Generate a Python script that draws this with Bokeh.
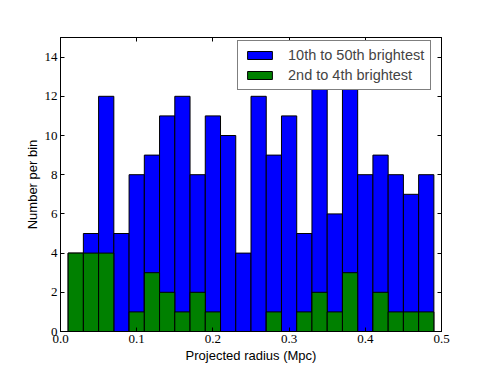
from bokeh.plotting import figure
from bokeh.models import LinearAxis, FixedTicker, Range1d, CustomJSTickFormatter
from bokeh.embed import file_html
from bokeh.resources import INLINE

bin_edges = [0.01, 0.03, 0.05, 0.07, 0.09, 0.11, 0.13, 0.15, 0.17, 0.19, 0.21, 0.23,
             0.25, 0.27, 0.29, 0.31, 0.33, 0.35, 0.37, 0.39, 0.41, 0.43, 0.45, 0.47, 0.49]
blue_counts = [4, 5, 12, 5, 8, 9, 11, 12, 8, 11, 10, 4,
               12, 9, 11, 5, 13, 6, 13, 8, 9, 8, 7, 8]
green_counts = [4, 4, 4, 0, 1, 3, 2, 1, 2, 1, 0, 0,
                0, 1, 0, 1, 2, 1, 3, 0, 2, 1, 1, 1]
x_ticks = [0.0, 0.1, 0.2, 0.3, 0.4, 0.5]
y_ticks = [0, 2, 4, 6, 8, 10, 12, 14]
blue_label = "10th to 50th brightest"
green_label = "2nd to 4th brightest"

lefts = bin_edges[:-1]
rights = bin_edges[1:]

p = figure(width=491, height=370, output_backend="svg", toolbar_location=None,
           x_range=Range1d(0, 0.5), y_range=Range1d(0, 15),
           min_border_left=60, min_border_right=50, min_border_top=37, min_border_bottom=39)
p.xgrid.visible = False
p.ygrid.visible = False
p.outline_line_color = "black"
p.outline_line_width = 1
p.background_fill_color = "white"
p.border_fill_color = "white"

p.quad(left=lefts, right=rights, bottom=0, top=blue_counts, fill_color="#0000ff",
       line_color="black", line_width=1, legend_label=blue_label)
p.quad(left=lefts, right=rights, bottom=0, top=green_counts, fill_color="#008000",
       line_color="black", line_width=1, legend_label=green_label)

serif = "Liberation Serif"
sans = "Liberation Sans"

for ax in p.xaxis:
    ax.ticker = FixedTicker(ticks=x_ticks)
    ax.formatter = CustomJSTickFormatter(code="return tick.toFixed(1);")
for ax in p.yaxis:
    ax.ticker = FixedTicker(ticks=y_ticks)

for ax in list(p.xaxis) + list(p.yaxis):
    ax.major_tick_in = 4
    ax.major_tick_out = 0
    ax.minor_tick_line_color = None
    ax.axis_line_color = "black"
    ax.major_label_text_font = serif
    ax.major_label_text_font_size = "13px"
    ax.major_label_text_color = "black"
    ax.axis_label_text_font = sans
    ax.axis_label_text_font_size = "13px"
    ax.axis_label_text_font_style = "normal"
    ax.axis_label_text_color = "black"
    ax.major_label_standoff = 3
    ax.axis_label_standoff = 2

p.xaxis.axis_label = "Projected radius (Mpc)"
p.yaxis.axis_label = "Number per bin"

empty = CustomJSTickFormatter(code="return '';")
top_ax = LinearAxis(ticker=FixedTicker(ticks=x_ticks), formatter=empty,
                    major_tick_in=4, major_tick_out=0, minor_tick_line_color=None,
                    major_label_standoff=0, major_label_text_font_size="1px")
right_ax = LinearAxis(ticker=FixedTicker(ticks=y_ticks), formatter=empty,
                      major_tick_in=4, major_tick_out=0, minor_tick_line_color=None,
                      major_label_standoff=0, major_label_text_font_size="1px")
p.add_layout(top_ax, "above")
p.add_layout(right_ax, "right")

lg = p.legend[0]
lg.location = (177, 241)
lg.label_text_font = sans
lg.label_text_font_size = "14.5px"
lg.glyph_width = 31
lg.glyph_height = 10
lg.label_standoff = 13
lg.padding = 6
lg.spacing = 4
lg.margin = 0
lg.border_line_color = "black"
lg.border_line_width = 1
lg.background_fill_color = "white"
lg.background_fill_alpha = 1.0

open("out.html", "w").write(file_html(p, INLINE))
